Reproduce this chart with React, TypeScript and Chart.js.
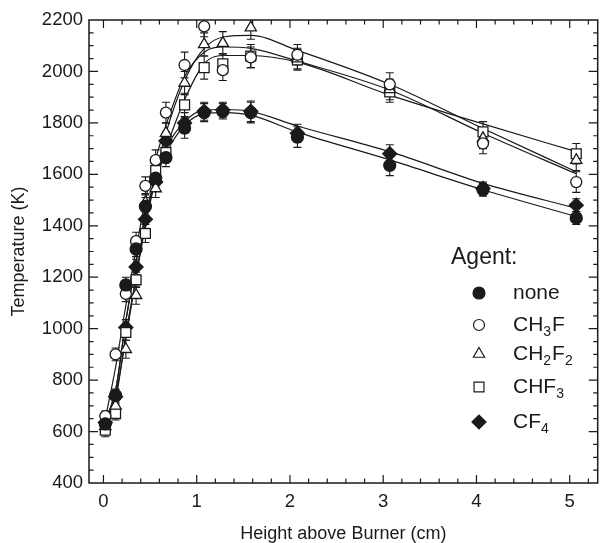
import React, { useEffect, useRef } from 'react';
import { Chart, registerables } from 'chart.js';
import { drawPoint } from 'chart.js/helpers';

Chart.register(...registerables);

// ---------- data ----------
const heights = [0.02, 0.13, 0.24, 0.35, 0.45, 0.56, 0.67, 0.87, 1.08, 1.28, 1.58, 2.08, 3.07, 4.07, 5.07];

const tempNone = [630, 740, 1170, 1310, 1475, 1585, 1665, 1780, 1840, 1845, 1840, 1745, 1635, 1540, 1430];
const tempCH3F = [660, 900, 1135, 1340, 1555, 1655, 1840, 2025, 2175, 2005, 2055, 2065, 1950, 1720, 1570];
const tempCH2F2 = [620, 700, 920, 1130, 1490, 1545, 1760, 1955, 2105, 2110, 2170, 2050, 1930, 1740, 1655];
const tempCHF3 = [605, 670, 985, 1190, 1370, 1615, 1685, 1870, 2015, 2030, 2060, 2045, 1920, 1765, 1680];
const tempCF4 = [635, 735, 1005, 1240, 1425, 1570, 1730, 1800, 1845, 1850, 1845, 1760, 1680, 1545, 1480];

const errNone = [20, 25, 30, 30, 35, 35, 35, 40, 35, 30, 40, 40, 40, 25, 25];
const errCH3F = [20, 25, 30, 35, 35, 40, 40, 50, 40, 40, 40, 40, 45, 40, 40];
const errCH2F2 = [20, 25, 35, 35, 35, 35, 40, 45, 45, 45, 45, 40, 40, 40, 40];
const errCHF3 = [25, 25, 30, 30, 35, 35, 40, 45, 45, 40, 45, 40, 40, 40, 40];
const errCF4 = [20, 25, 30, 30, 35, 35, 35, 40, 35, 30, 40, 35, 35, 25, 25];

// smooth fit curves
const fitHeights = [0.02, 0.13, 0.24, 0.35, 0.45, 0.56, 0.67, 0.87, 1.08, 1.3, 1.58, 2.08, 3.07, 4.07, 5.07];
const fitNone = [640, 760, 1030, 1260, 1440, 1580, 1680, 1790, 1836, 1840, 1830, 1764, 1656, 1540, 1436];
const fitCH3F = [650, 850, 1090, 1310, 1500, 1660, 1790, 1980, 2075, 2095, 2090, 2040, 1928, 1760, 1602];
const fitCH2F2 = [625, 740, 960, 1200, 1420, 1600, 1760, 1965, 2090, 2135, 2140, 2082, 1950, 1778, 1610];
const fitCHF3 = [610, 720, 980, 1200, 1400, 1580, 1700, 1890, 2030, 2062, 2062, 2036, 1908, 1796, 1688];
const fitCF4 = [640, 760, 1030, 1260, 1440, 1590, 1700, 1805, 1850, 1852, 1845, 1788, 1688, 1565, 1468];

const xTickValues = [0, 1, 2, 3, 4, 5];
const yTickValues = [400, 600, 800, 1000, 1200, 1400, 1600, 1800, 2000, 2200];

const legendTitle = 'Agent:';
// label pieces alternate: normal, subscript, normal, subscript...
const labelNone = ['none'];
const labelCH3F = ['CH', '3', 'F'];
const labelCH2F2 = ['CH', '2', 'F', '2'];
const labelCHF3 = ['CHF', '3'];
const labelCF4 = ['CF', '4'];

const FONT = '"Liberation Sans", Arial, Helvetica, sans-serif';

type Series = {
  label: string[];
  values: number[];
  errors: number[];
  fit: number[];
  style: 'circle' | 'triangle' | 'rect' | 'rectRot';
  filled: boolean;
  radius: number;
};

const series: Series[] = [
  { label: labelNone, values: tempNone, errors: errNone, fit: fitNone, style: 'circle', filled: true, radius: 6 },
  { label: labelCH3F, values: tempCH3F, errors: errCH3F, fit: fitCH3F, style: 'circle', filled: false, radius: 5.5 },
  { label: labelCH2F2, values: tempCH2F2, errors: errCH2F2, fit: fitCH2F2, style: 'triangle', filled: false, radius: 6.5 },
  { label: labelCHF3, values: tempCHF3, errors: errCHF3, fit: fitCHF3, style: 'rect', filled: false, radius: 7 },
  { label: labelCF4, values: tempCF4, errors: errCF4, fit: fitCF4, style: 'rectRot', filled: true, radius: 7 },
];

const INK = '#1a1a1a';

const errorBarPlugin = {
  id: 'errorBars',
  beforeDatasetsDraw(chart: any) {
    const { ctx, chartArea, scales } = chart;
    const xs = scales.x;
    const ys = scales.y;
    ctx.save();
    ctx.beginPath();
    ctx.rect(chartArea.left, chartArea.top, chartArea.right - chartArea.left, chartArea.bottom - chartArea.top);
    ctx.clip();
    ctx.strokeStyle = INK;
    ctx.lineWidth = 1.1;
    series.forEach((s) => {
      s.values.forEach((v, i) => {
        const px = xs.getPixelForValue(heights[i]);
        const top = ys.getPixelForValue(v + s.errors[i]);
        const bot = ys.getPixelForValue(v - s.errors[i]);
        ctx.beginPath();
        ctx.moveTo(px, top);
        ctx.lineTo(px, bot);
        ctx.moveTo(px - 4, top);
        ctx.lineTo(px + 4, top);
        ctx.moveTo(px - 4, bot);
        ctx.lineTo(px + 4, bot);
        ctx.stroke();
      });
    });
    ctx.restore();
  },
};

const frameTicksPlugin = {
  id: 'frameTicks',
  afterDraw(chart: any) {
    const { ctx, chartArea, scales } = chart;
    const xs = scales.x;
    const ys = scales.y;
    const { left, right, top, bottom } = chartArea;
    ctx.save();
    ctx.strokeStyle = INK;
    ctx.lineWidth = 1.5;
    ctx.strokeRect(left, top, right - left, bottom - top);
    ctx.lineWidth = 1.2;
    ctx.beginPath();
    for (let k = -1; k <= 26; k++) {
      const v = k * 0.2;
      const px = xs.getPixelForValue(v);
      if (px < left + 1 || px > right - 1) continue;
      const major = k % 5 === 0;
      const len = major ? 8 : 4.5;
      ctx.moveTo(px, bottom);
      ctx.lineTo(px, bottom - len);
      ctx.moveTo(px, top);
      ctx.lineTo(px, top + len);
    }
    for (let v = 400; v <= 2200; v += 50) {
      const py = ys.getPixelForValue(v);
      if (py < top + 1 || py > bottom - 1) continue;
      const major = v % 200 === 0;
      const len = major ? 9 : 4.5;
      ctx.moveTo(left, py);
      ctx.lineTo(left + len, py);
      ctx.moveTo(right, py);
      ctx.lineTo(right - len, py);
    }
    ctx.stroke();
    ctx.restore();
  },
};

const legendPlugin = {
  id: 'customLegend',
  afterDraw(chart: any) {
    const { ctx } = chart;
    ctx.save();
    ctx.fillStyle = INK;
    ctx.textBaseline = 'middle';
    ctx.textAlign = 'left';
    ctx.font = `23px ${FONT}`;
    ctx.fillText(legendTitle, 451, 258);
    const rows = [293, 325, 354, 387, 422];
    series.forEach((s, i) => {
      const y = rows[i];
      ctx.fillStyle = s.filled ? INK : '#ffffff';
      ctx.strokeStyle = INK;
      ctx.lineWidth = 1.2;
      drawPoint(ctx, { pointStyle: s.style, radius: s.radius, rotation: 0, borderWidth: 1.2 }, 479, y);
      let x = 513;
      ctx.fillStyle = INK;
      s.label.forEach((part, j) => {
        const sub = j % 2 === 1;
        ctx.font = sub ? `14px ${FONT}` : `21px ${FONT}`;
        ctx.fillText(part, x, sub ? y + 7 : y);
        x += ctx.measureText(part).width + (sub ? 1 : 0);
      });
    });
    ctx.restore();
  },
};

export default function App() {
  const canvasRef = useRef<HTMLCanvasElement | null>(null);

  useEffect(() => {
    const canvas = canvasRef.current;
    if (!canvas) return;

    const fitSets = series.map((s) => ({
      type: 'line' as const,
      data: fitHeights.map((h, i) => ({ x: h, y: s.fit[i] })),
      borderColor: INK,
      borderWidth: 1.2,
      pointRadius: 0,
      fill: false,
      cubicInterpolationMode: 'monotone' as const,
      order: 10,
    }));
    const pointSets = series.map((s) => ({
      type: 'line' as const,
      data: heights.map((h, i) => ({ x: h, y: s.values[i] })),
      showLine: false,
      pointStyle: s.style,
      pointRadius: s.radius,
      pointBorderWidth: 1.3,
      pointBorderColor: INK,
      pointBackgroundColor: s.filled ? INK : '#ffffff',
      order: 1,
    }));

    const chart = new Chart(canvas, {
      type: 'line',
      data: { datasets: [...fitSets, ...pointSets] as any },
      options: {
        responsive: false,
        animation: false,
        layout: { padding: { top: 20, right: 5, left: 0, bottom: 0 } },
        plugins: { legend: { display: false }, tooltip: { enabled: false } },
        scales: {
          x: {
            type: 'linear',
            min: -0.155,
            max: 5.3,
            grid: { display: false, drawTicks: false, tickLength: 0 },
            border: { display: false },
            afterBuildTicks: (scale: any) => {
              scale.ticks = xTickValues.map((v) => ({ value: v }));
            },
            afterFit: (scale: any) => {
              scale.height = 60;
            },
            ticks: {
              color: INK,
              font: { family: FONT, size: 18.5 },
              padding: 8,
              maxRotation: 0,
              callback: (v: any) => String(v),
            },
            title: {
              display: true,
              text: 'Height above Burner (cm)',
              color: INK,
              font: { family: FONT, size: 18, lineHeight: 1 },
              padding: { top: 0, bottom: 0 },
            },
          },
          y: {
            type: 'linear',
            min: 400,
            max: 2200,
            grid: { display: false, drawTicks: false, tickLength: 0 },
            border: { display: false },
            afterBuildTicks: (scale: any) => {
              scale.ticks = yTickValues.map((v) => ({ value: v }));
            },
            afterFit: (scale: any) => {
              scale.width = 89;
            },
            ticks: {
              color: INK,
              font: { family: FONT, size: 18.5 },
              padding: 6,
              callback: (v: any) => String(v),
            },
            title: {
              display: true,
              text: 'Temperature (K)',
              color: INK,
              font: { family: FONT, size: 18, lineHeight: 1 },
              padding: { top: 10, bottom: 0 },
            },
          },
        },
      },
      plugins: [errorBarPlugin, frameTicksPlugin, legendPlugin],
    });

    return () => {
      chart.destroy();
    };
  }, []);

  return (
    <div style={{ position: 'fixed', left: 0, top: 0, width: 606, height: 543, background: '#ffffff' }}>
      <canvas ref={canvasRef} width={606} height={543} style={{ display: 'block' }} />
    </div>
  );
}
